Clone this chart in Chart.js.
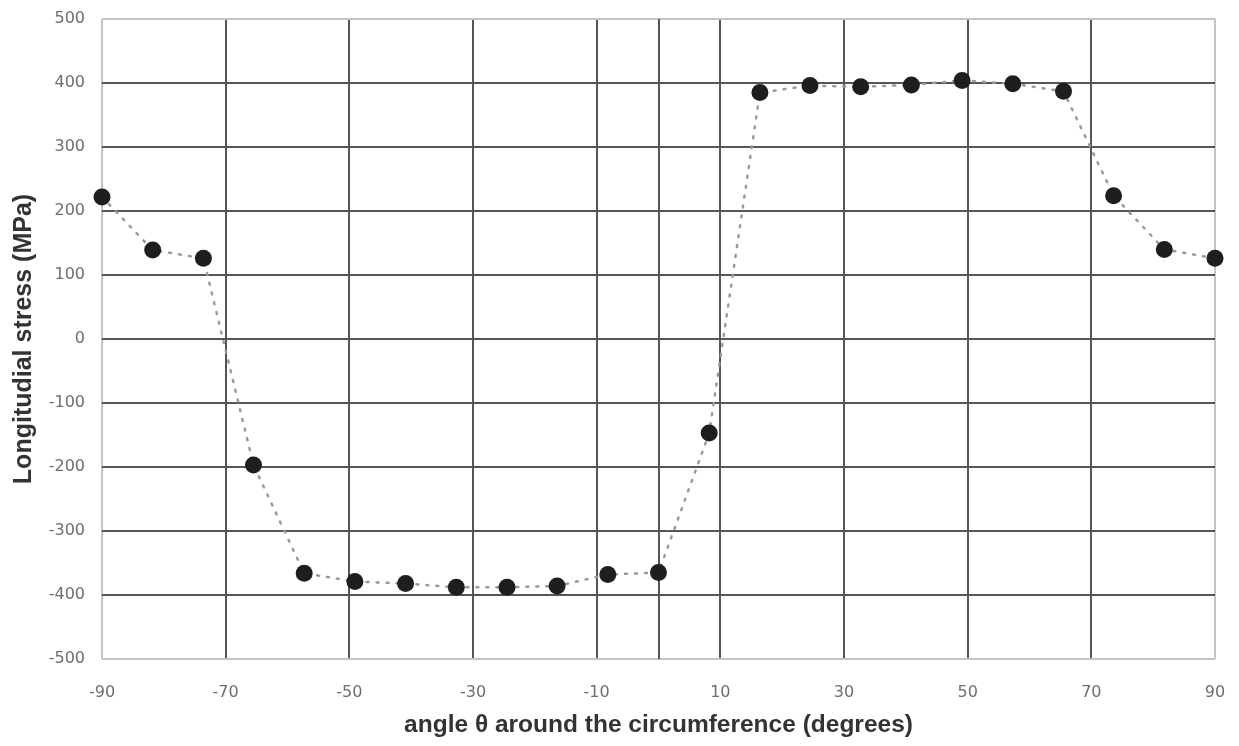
<!DOCTYPE html>
<html>
<head>
<meta charset="utf-8">
<title>Longitudinal stress around the circumference</title>
<script src="https://cdn.jsdelivr.net/npm/chart.js@4.4.1/dist/chart.umd.min.js"></script>
<style>
  html, body { margin: 0; padding: 0; background: #fff; }
  #caja { width: 1239px; height: 746px; }
</style>
</head>
<body>
<div id="caja"><canvas id="tension"></canvas></div>
<script>
// angulos de medicion (grados) y tension longitudinal (MPa)
const angulos = [-90, -81.8, -73.6, -65.5, -57.3, -49.1, -40.9, -32.7, -24.5, -16.4, -8.2, 0,
                 8.2, 16.4, 24.5, 32.7, 40.9, 49.1, 57.3, 65.5, 73.6, 81.8, 90];
const tensiones = [222, 139, 126, -197, -366, -379, -382, -388, -388, -386, -368, -365,
                   -147, 385, 396, 394, 397, 404, 399, 387, 224, 140, 126];

const ticksX = [-90, -70, -50, -30, -10, 10, 30, 50, 70, 90];
const ticksY = [-500, -400, -300, -200, -100, 0, 100, 200, 300, 400, 500];

const puntos = angulos.map((a, i) => ({ x: a, y: tensiones[i] }));

// linea vertical en 0 grados (eje de valores)
const ejeCero = {
    id: "ejeCero",
    beforeDatasetsDraw(chart) {
        const { ctx, chartArea, scales } = chart;
        const x = Math.round(scales.x.getPixelForValue(0));
        ctx.save();
        ctx.strokeStyle = "#555";
        ctx.lineWidth = 2;
        ctx.beginPath();
        ctx.moveTo(x, chartArea.top);
        ctx.lineTo(x, chartArea.bottom);
        ctx.stroke();
        ctx.restore();
    }
};

const bordeClaro = "#c4c4c4";
const rejilla = "#555";

new Chart("tension", {
    type: "scatter",
    data: {
        datasets: [{
            data: puntos,
            showLine: true,
            clip: false,
            borderColor: "#9a9a9a",
            borderWidth: 2.5,
            borderDash: [2, 8],
            borderCapStyle: "round",
            pointRadius: 8.5,
            pointHoverRadius: 8.5,
            pointBackgroundColor: "#1e1e1e",
            pointBorderWidth: 0
        }]
    },
    options: {
        responsive: true,
        maintainAspectRatio: false,
        animation: false,
        layout: { autoPadding: false, padding: { top: 19, right: 24, bottom: 0, left: 0 } },
        plugins: {
            legend: { display: false },
            tooltip: { enabled: false }
        },
        scales: {
            x: {
                type: "linear",
                min: -90,
                max: 90,
                afterBuildTicks: (s) => { s.ticks = ticksX.map(v => ({ value: v })); },
                afterFit: (s) => {
                    s.height = 87;
                    s.paddingLeft = 0;
                    s.paddingRight = 0;
                },
                border: { display: false },
                grid: {
                    drawTicks: false,
                    lineWidth: 2,
                    color: (c) => (c.tick && Math.abs(c.tick.value) === 90) ? bordeClaro : rejilla
                },
                ticks: {
                    padding: 24,
                    color: "#6e6e6e",
                    font: { family: "DejaVu Sans", size: 16 }
                },
                title: {
                    display: true,
                    text: "angle θ around the circumference (degrees)",
                    color: "#333",
                    font: { family: "Liberation Sans", size: 24.5, weight: "bold" },
                    padding: { top: 0, bottom: 6 }
                }
            },
            y: {
                min: -500,
                max: 500,
                afterBuildTicks: (s) => { s.ticks = ticksY.map(v => ({ value: v })); },
                afterFit: (s) => {
                    s.width = 102;
                    s.paddingTop = 0;
                    s.paddingBottom = 0;
                },
                border: { display: false },
                grid: {
                    drawTicks: false,
                    lineWidth: 2,
                    color: (c) => (c.tick && Math.abs(c.tick.value) === 500) ? bordeClaro : rejilla
                },
                ticks: {
                    padding: 17,
                    color: "#6e6e6e",
                    font: { family: "DejaVu Sans", size: 16 }
                },
                title: {
                    display: true,
                    text: "Longitudial stress (MPa)",
                    color: "#333",
                    font: { family: "Liberation Sans", size: 25, weight: "bold" },
                    padding: { top: 9, bottom: 0 }
                }
            }
        }
    },
    plugins: [ejeCero]
});
</script>
</body>
</html>
